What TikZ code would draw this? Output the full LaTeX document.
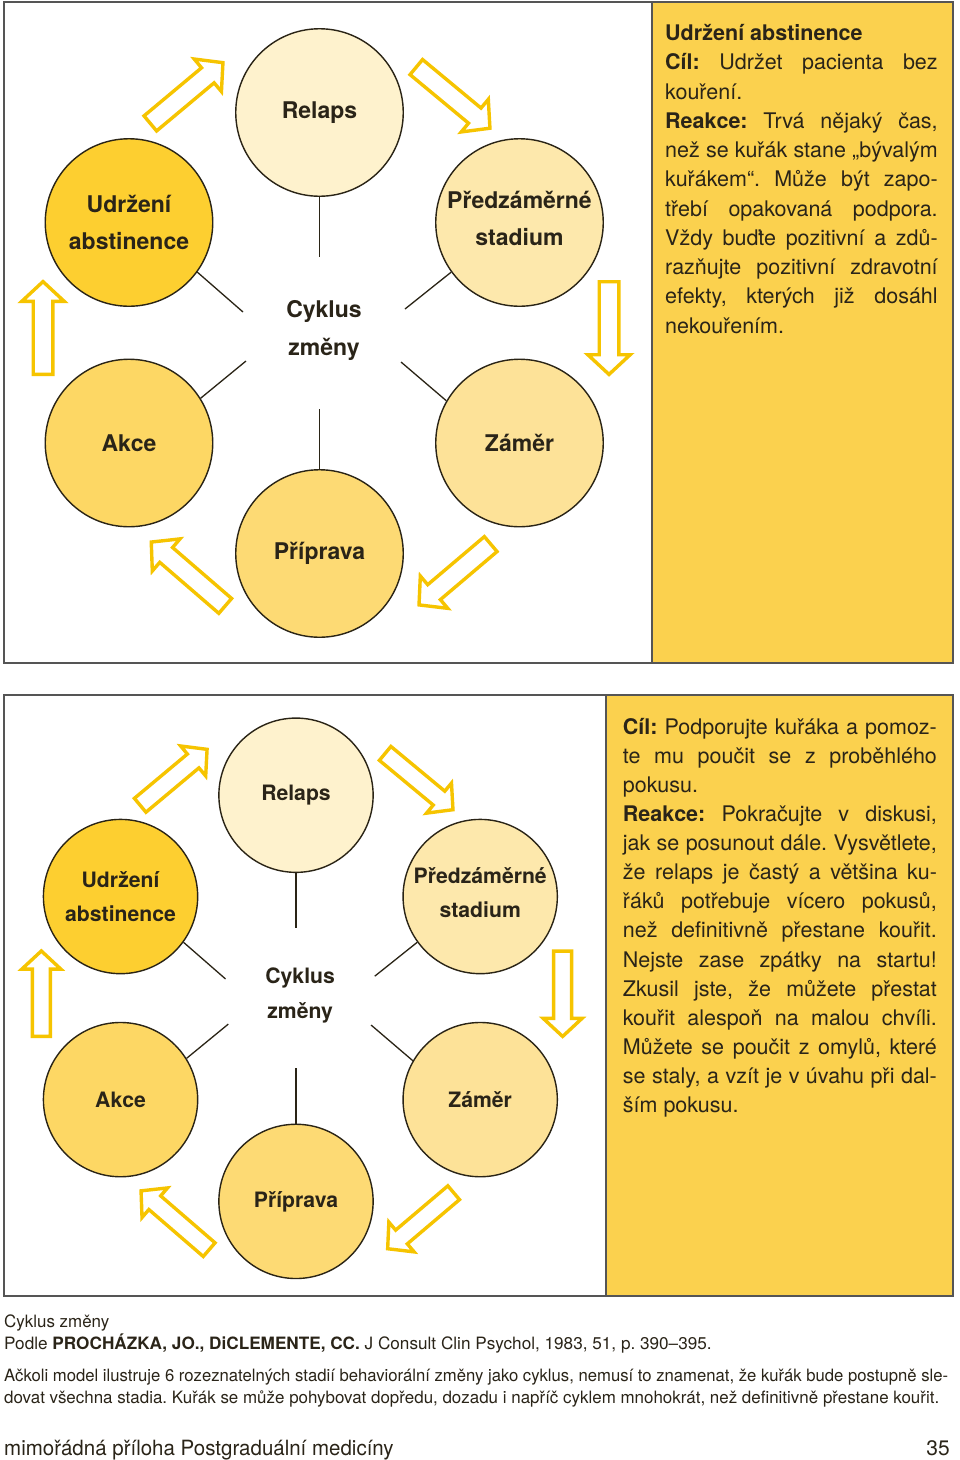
\documentclass[tikz,border=0pt]{standalone}
\usepackage{fontspec}
\setmainfont{TeX Gyre Heros}
\usepackage{graphicx}
\usetikzlibrary{calc}
\frenchspacing

\definecolor{cRel}{HTML}{FEF2CD}
\definecolor{cPred}{HTML}{FDE8AC}
\definecolor{cZam}{HTML}{FDE298}
\definecolor{cPrip}{HTML}{FDDA74}
\definecolor{cAkce}{HTML}{FDD764}
\definecolor{cUdr}{HTML}{FDCF30}
\definecolor{cBox}{HTML}{FBD14E}
\definecolor{cArrow}{HTML}{F6C400}
\definecolor{cLine}{HTML}{2A2416}
\definecolor{cText}{HTML}{2A2418}
\definecolor{cPanel}{HTML}{555555}

\newsavebox\fwbox
\newcommand\fitw[2]{\sbox\fwbox{#2}\pgfmathsetmacro\fwscale{#1/\the\wd\fwbox}\scalebox{\fwscale}[1]{\usebox\fwbox}}
\newcommand\jl[2]{\makebox[#1][s]{#2}}

\newcommand\barrow[3]{%
  \begin{scope}[shift={#1},rotate=#2]
    \draw[arr] (1.7,-9.8) -- ({#3-22.3},-9.8) -- ({#3-22.3},-21.2) -- ({#3-2.6},0)
      -- ({#3-22.3},21.2) -- ({#3-22.3},9.8) -- (1.7,9.8) -- cycle;
  \end{scope}}

\newcommand\cyclediagram[1]{%
  \node[circ, fill=cRel]  (#1rel)  at (0,-220.5) {Relaps};
  \node[circ, fill=cUdr]  (#1udr)  at (-190.5,-110.5) {Udržení\\abstinence};
  \node[circ, fill=cPred] (#1pred) at (200,-110.5) {Předzáměrné\\stadium\rule[-8pt]{0pt}{0pt}};
  \node[circ, fill=cAkce] (#1akce) at (-190.5,110) {Akce};
  \node[circ, fill=cZam]  (#1zam)  at (200,110) {Záměr};
  \node[circ, fill=cPrip] (#1prip) at (0,220.5) {Příprava};
  \node[lbl] (#1cyc) at (4.5,-3) {Cyklus\\změny};
  \coordinate (#1s1) at (0,-76);
  \coordinate (#1s2) at (-76.5,-21);
  \coordinate (#1s3) at (85.5,-24);
  \coordinate (#1s4) at (-73.5,28);
  \coordinate (#1s5) at (81.5,29);
  \coordinate (#1s6) at (0,76);
  \draw[spoke] (#1rel.south) -- (#1s1);
  \draw[spoke] (#1udr.-36) -- (#1s2);
  \draw[spoke] (#1pred.-144) -- (#1s3);
  \draw[spoke] (#1akce.32) -- (#1s4);
  \draw[spoke] (#1zam.150) -- (#1s5);
  \draw[spoke] (#1prip.north) -- (#1s6);
  \barrow{(-170.5,-208.5)}{39.9}{99}
  \barrow{(95.5,-267)}{-39.7}{100}
  \barrow{(289.5,-53)}{-90}{97}
  \barrow{(172.5,210)}{-139.7}{98.3}
  \barrow{(-93,274)}{139.2}{102}
  \barrow{(-276.5,43)}{90}{97}
}

\begin{document}
\begin{tikzpicture}[x=1pt,y=-1pt,
  circ/.style={circle, draw=cLine, line width=1.4pt, minimum size=167.5pt, inner sep=0pt,
    align=center, text=cText, font=\fontsize{23}{37}\selectfont\bfseries},
  lbl/.style={align=center, inner sep=0pt, text=cText, font=\fontsize{23}{38}\selectfont\bfseries},
  spoke/.style={draw=cLine, line width=1.3pt},
  arr/.style={draw=cArrow, line width=3.4pt, fill=white, line join=miter, miter limit=10},
  panel/.style={draw=cPanel, line width=1.2pt},
  bodyt/.style={anchor=base west, inner sep=0pt, text=cText, font=\fontsize{21.5}{25}\selectfont},
  foot/.style={anchor=base west, inner sep=0pt, text=cText, font=\fontsize{17}{20}\selectfont}]

\useasboundingbox (0,0) rectangle (960,1460);
\fill[white] (0,0) rectangle (960,1460);

% panels
\fill[cBox] (652,2) rectangle (953,663);
\draw[panel] (4,2) rectangle (953,663);
\draw[panel] (652,2) -- (652,663);
\fill[cBox] (606,695) rectangle (953,1296);
\draw[panel] (4,695) rectangle (953,1296);
\draw[panel] (606,695) -- (606,1296);

\begin{scope}[shift={(319.5,333)}]
  \cyclediagram{a}
\end{scope}
\begin{scope}[shift={(296,998.3)}, scale=0.921, transform shape]
  \cyclediagram{b}
\end{scope}

% top text box
\node[bodyt] (ta1) at (665,40.7) {\textbf{Udržení abstinence}};
\node[bodyt] (ta2) at (665,69.95) {\jl{272.5pt}{\textbf{Cíl:} Udržet pacienta bez}};
\node[bodyt] (ta3) at (665,99.2) {kouření.};
\node[bodyt] (ta4) at (665,128.45) {\jl{272.5pt}{\textbf{Reakce:} Trvá nějaký čas,}};
\node[bodyt] (ta5) at (665,157.7) {\jl{272.5pt}{než se kuřák stane „bývalým}};
\node[bodyt] (ta6) at (665,186.95) {\jl{272.5pt}{kuřákem“. Může být zapo-}};
\node[bodyt] (ta7) at (665,216.2) {\jl{272.5pt}{třebí opakovaná podpora.}};
\node[bodyt] (ta8) at (665,245.45) {\jl{272.5pt}{Vždy buďte pozitivní a zdů-}};
\node[bodyt] (ta9) at (665,274.7) {\jl{272.5pt}{razňujte pozitivní zdravotní}};
\node[bodyt] (ta10) at (665,303.95) {\jl{272.5pt}{efekty, kterých již dosáhl}};
\node[bodyt] (ta11) at (665,333.2) {nekouřením.};

% bottom text box
\node[bodyt] (tb1) at (622.7,734) {\jl{314pt}{\textbf{Cíl:} Podporujte kuřáka a pomoz-}};
\node[bodyt] (tb2) at (622.7,763.13) {\jl{314pt}{te mu poučit se z proběhlého}};
\node[bodyt] (tb3) at (622.7,792.26) {pokusu.};
\node[bodyt] (tb4) at (622.7,821.39) {\jl{314pt}{\textbf{Reakce:} Pokračujte v diskusi,}};
\node[bodyt] (tb5) at (622.7,850.52) {\jl{314pt}{jak se posunout dále. Vysvětlete,}};
\node[bodyt] (tb6) at (622.7,879.65) {\jl{314pt}{že relaps je častý a většina ku-}};
\node[bodyt] (tb7) at (622.7,908.78) {\jl{314pt}{řáků potřebuje vícero pokusů,}};
\node[bodyt] (tb8) at (622.7,937.91) {\jl{314pt}{než definitivně přestane kouřit.}};
\node[bodyt] (tb9) at (622.7,967.04) {\jl{314pt}{Nejste zase zpátky na startu!}};
\node[bodyt] (tb10) at (622.7,996.17) {\jl{314pt}{Zkusil jste, že můžete přestat}};
\node[bodyt] (tb11) at (622.7,1025.3) {\jl{314pt}{kouřit alespoň na malou chvíli.}};
\node[bodyt] (tb12) at (622.7,1054.43) {\jl{314pt}{Můžete se poučit z omylů, které}};
\node[bodyt] (tb13) at (622.7,1083.56) {\jl{314pt}{se staly, a vzít je v úvahu při dal-}};
\node[bodyt] (tb14) at (622.7,1112.7) {ším pokusu.};

% footer
\node[foot] (f1) at (4,1327.5) {\fitw{105}{Cyklus změny}};
\node[foot] (f2) at (4,1349) {\fitw{707.5}{Podle \textbf{PROCHÁZKA, JO., DiCLEMENTE, CC.} J Consult Clin Psychol, 1983, 51, p. 390–395.}};
\node[foot] (f3) at (4,1381.5) {\fitw{944}{Ačkoli model ilustruje 6 rozeznatelných stadií behaviorální změny jako cyklus, nemusí to znamenat, že kuřák bude postupně sle-}};
\node[foot] (f4) at (4,1403) {\fitw{935}{dovat všechna stadia. Kuřák se může pohybovat dopředu, dozadu i napříč cyklem mnohokrát, než definitivně přestane kouřit.}};
\node[foot, font=\fontsize{21}{24}\selectfont] (f5) at (4,1455) {\fitw{389.5}{mimořádná příloha Postgraduální medicíny}};
\node[foot, anchor=base east, font=\fontsize{21}{24}\selectfont] (f6) at (950,1455) {35};

\end{tikzpicture}
\end{document}
